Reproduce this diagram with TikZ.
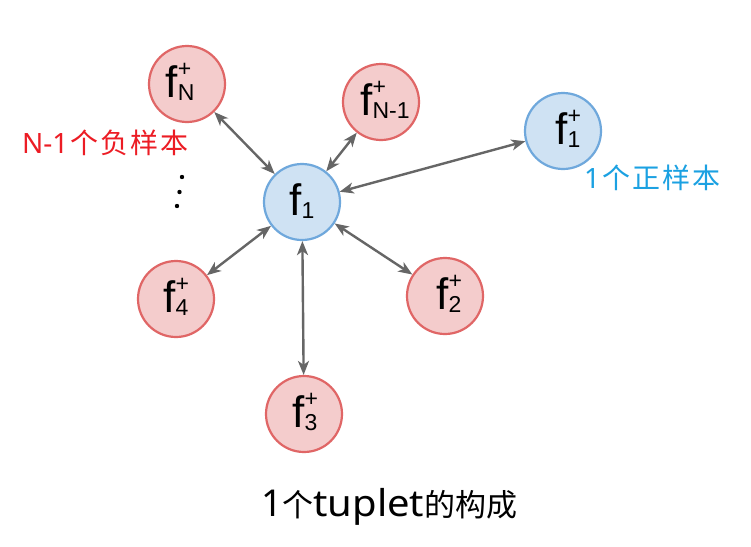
\documentclass[tikz,border=0pt]{standalone}
\usepackage{fontspec}
\usepackage{graphicx}
\setmainfont{Liberation Sans}
\newfontfamily\cjk{Noto Sans CJK SC}
\newfontfamily\lat{Noto Sans}
\usetikzlibrary{arrows.meta}
\definecolor{redfill}{HTML}{F4CCCC}
\definecolor{redline}{HTML}{E06666}
\definecolor{bluefill}{HTML}{CFE2F3}
\definecolor{blueline}{HTML}{6FA8DC}
\definecolor{linkgray}{HTML}{666666}
\definecolor{redtxt}{HTML}{EC1C24}
\definecolor{bluetxt}{HTML}{1BA1E2}
% #1 subscript, #2 superscript, #3 horizontal kern (twice the ink shift)
\newcommand{\flab}[3]{\kern#3pt{\fontsize{44}{44}\selectfont f}{\fontsize{23}{23}\selectfont\rlap{\raisebox{21pt}{#2}}\raisebox{-3pt}{#1}}}
\newcommand{\ck}{\kern2pt}
\tikzset{
  vecnode/.style={circle, line width=2.2pt, minimum size=76pt, inner sep=0pt,
    text height=27pt, text depth=0pt},
  negnode/.style={vecnode, draw=redline, fill=redfill},
  posnode/.style={vecnode, draw=blueline, fill=bluefill},
  linkline/.style={draw=linkgray, line width=2.4pt,
    {Stealth[length=14pt,width=11pt,inset=4pt]}-{Stealth[length=14pt,width=11pt,inset=4pt]}},
  smalltext/.style={anchor=base west, inner sep=0pt, font=\cjk\fontsize{28}{28}\selectfont},
}
\begin{document}
\begin{tikzpicture}[x=1pt, y=-1pt]
\useasboundingbox (0,0) rectangle (751,546);
\fill[white] (0,0) rectangle (751,546);

\node[posnode] (f1)  at (302,202) {\flab{1}{}{0}};
\node[negnode] (fN)  at (187,84)  {\flab{N}{+}{-14}};
\node[negnode] (fN1) at (381,102) {\flab{N-1}{+}{8}};
\node[posnode] (fp)  at (563,131) {\flab{1}{+}{10}};
\node[negnode] (f4)  at (176,299) {\flab{4}{+}{0}};
\node[negnode] (f2)  at (445,296) {\flab{2}{+}{8}};
\node[negnode] (f3)  at (304,414) {\flab{3}{+}{2}};

\path[linkline] (fN) -- (f1);
\path[linkline] (fN1) -- (f1);
\path[linkline] (f1) -- (fp);
\path[linkline] (f1) -- (f4);
\path[linkline] (f1) -- (f2);
\path[linkline] (f1) -- (f3);

\fill (182,177) circle (2.2);
\fill (179.5,192) circle (2.2);
\fill (177,206) circle (2.2);

\node[smalltext, text=redtxt] (lneg) at (22,153)
  {{\lat N-1}\kern2pt个\ck 负\ck 样\ck 本};
\node[smalltext, text=bluetxt] (lpos) at (584,188)
  {{\lat 1}\ck 个\ck 正\ck 样\ck 本};
\node[anchor=base west, inner sep=0pt, text=black] (title) at (261,516)
  {{\lat\fontsize{37}{37}\selectfont 1}{\cjk\fontsize{31}{31}\selectfont 个}{\lat\fontsize{37}{37}\selectfont\scalebox{1.08}[1]{tuplet}}{\cjk\fontsize{31}{31}\selectfont 的构成}};
\end{tikzpicture}
\end{document}
